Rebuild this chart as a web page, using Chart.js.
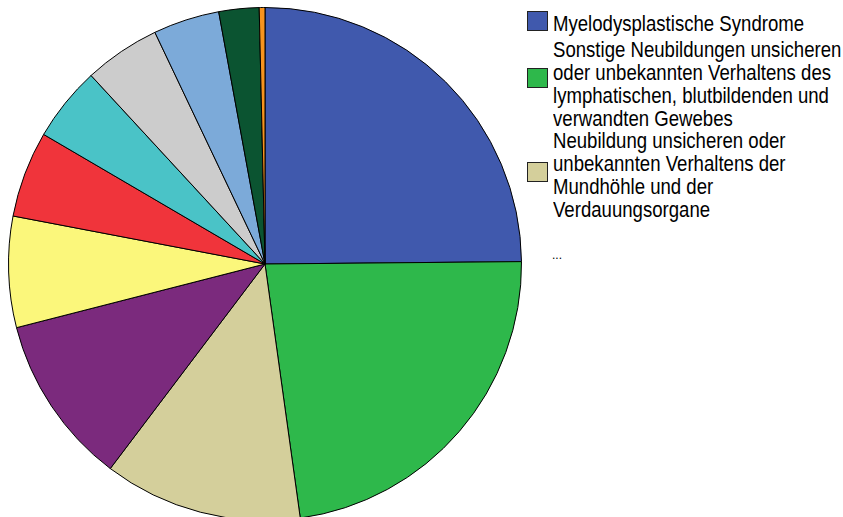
<!DOCTYPE html>
<html>
<head>
<meta charset="utf-8">
<script src="https://cdn.jsdelivr.net/npm/chart.js@4"></script>
<style>
    html, body { margin: 0; padding: 0; background: #fff; overflow: hidden; }
    body { width: 843px; height: 517px; position: relative; }
    #pieWrap { position: absolute; left: 8px; top: 7px; width: 514px; height: 514px; }
    .legend-item { position: absolute; left: 553px; font-family: "Liberation Sans", Arial, sans-serif;
        font-size: 22px; line-height: 23px; color: #000; white-space: nowrap;
        transform: scaleX(0.845); transform-origin: 0 0; }
    .legend-box { position: absolute; left: 527px; width: 19px; height: 18px; border: 1px solid #222; }
    .legend-more { position: absolute; left: 552px; top: 248px; font-family: "Liberation Sans", Arial, sans-serif;
        font-size: 12px; color: #000; }
</style>
</head>
<body>
<div id="pieWrap"><canvas id="pieChart"></canvas></div>
<div id="legend"></div>
<script>
// Slice labels (only the first three are named in the legend)
const categories = [
    'Myelodysplastische Syndrome',
    'Sonstige Neubildungen unsicheren oder unbekannten Verhaltens des lymphatischen, blutbildenden und verwandten Gewebes',
    'Neubildung unsicheren oder unbekannten Verhaltens der Mundhöhle und der Verdauungsorgane',
    '...', '...', '...', '...', '...', '...', '...', '...'
];
// Legend text broken into the lines shown in the picture
const legendLines = [
    ['Myelodysplastische Syndrome'],
    ['Sonstige Neubildungen unsicheren', 'oder unbekannten Verhaltens des', 'lymphatischen, blutbildenden und', 'verwandten Gewebes'],
    ['Neubildung unsicheren oder', 'unbekannten Verhaltens der', 'Mundhöhle und der', 'Verdauungsorgane']
];
// Share of each slice in percent
const shares = [24.85, 22.95, 12.5, 10.7, 6.99, 5.43, 4.71, 4.8, 4.17, 2.53, 0.36];
const colors = ['#4059ad', '#2eb84b', '#d4cf9b', '#7b2a7d', '#fbf77b', '#f0343b',
                '#4ac3c7', '#cccccc', '#7caad9', '#0b5431', '#f7941e'];

document.addEventListener('DOMContentLoaded', function() {
    // Legend (HTML, because the labels wrap over several lines)
    const legend = document.getElementById('legend');
    const itemTops = [12, 38, 129];
    const boxTops = [11, 68, 162];
    legendLines.forEach((lines, i) => {
        const item = document.createElement('div');
        item.className = 'legend-item';
        item.style.top = itemTops[i] + 'px';
        item.innerHTML = lines.join('<br>');
        legend.appendChild(item);

        const box = document.createElement('div');
        box.className = 'legend-box';
        box.style.top = boxTops[i] + 'px';
        box.style.background = colors[i];
        legend.appendChild(box);
    });
    const more = document.createElement('div');
    more.className = 'legend-more';
    more.textContent = '...';
    legend.appendChild(more);

    // Pie chart
    const ctx = document.getElementById('pieChart').getContext('2d');
    new Chart(ctx, {
        type: 'pie',
        data: {
            labels: categories,
            datasets: [{
                data: shares,
                backgroundColor: colors,
                borderColor: '#000',
                borderWidth: 1
            }]
        },
        options: {
            responsive: true,
            maintainAspectRatio: false,
            animation: false,
            layout: { padding: 0 },
            plugins: {
                legend: { display: false },
                tooltip: { enabled: false }
            }
        }
    });
});
</script>
</body>
</html>
